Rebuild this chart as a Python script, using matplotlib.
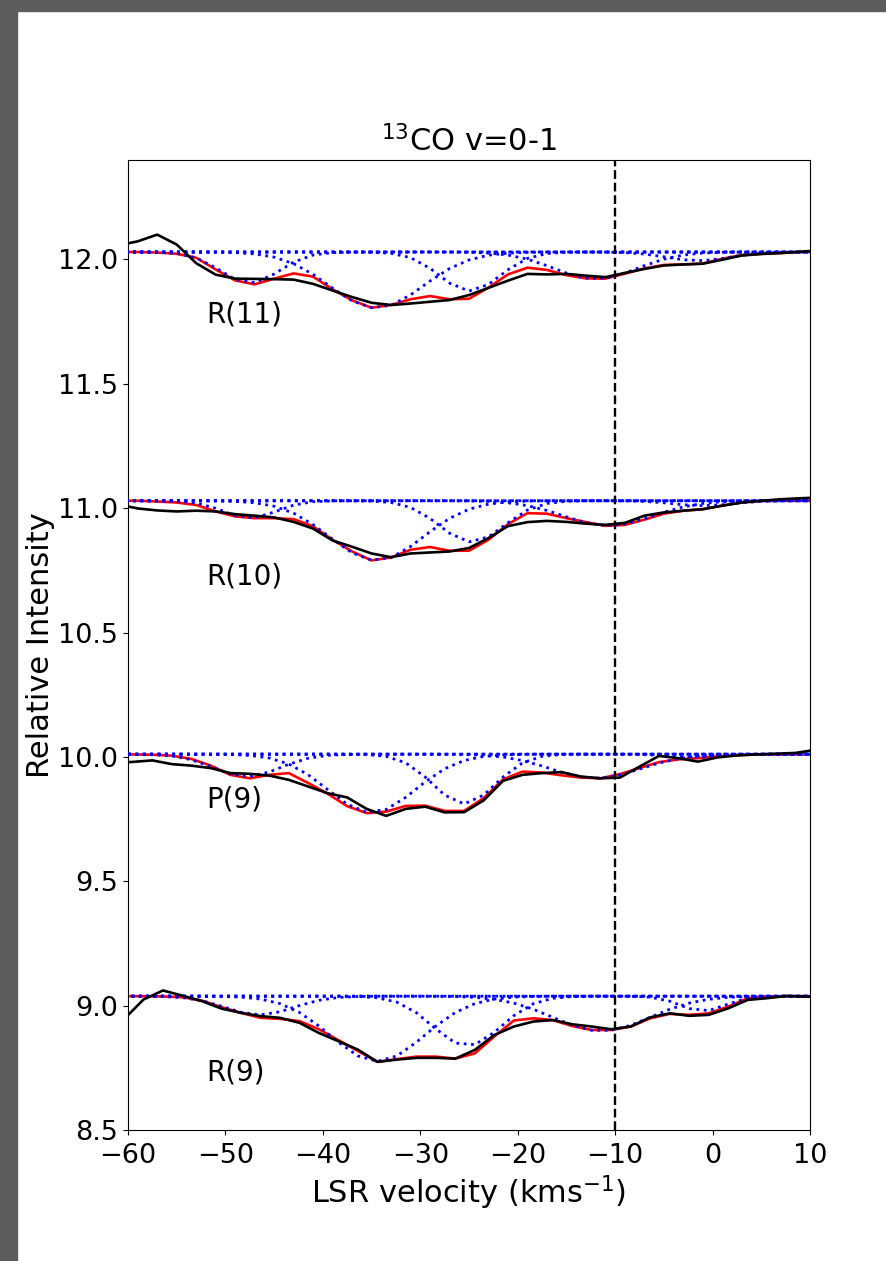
import numpy as np
import matplotlib
matplotlib.use('Agg')
import matplotlib.pyplot as plt
from matplotlib.patches import Rectangle

# ---------------- data ----------------
vel_R11 = [-61, -59, -57, -55, -53, -51, -49, -47, -45, -43, -41, -39, -37, -35, -33, -31, -29, -27, -25,
           -23, -21, -19, -17, -15, -13, -11, -9, -7, -5, -3, -1, 1, 3, 5, 7, 9, 11]
vel_R10 = vel_R11
vel_P9 = [-61.5, -59.5, -57.5, -55.5, -53.5, -51.5, -49.5, -47.5, -45.5, -43.5, -41.5, -39.5, -37.5, -35.5,
          -33.5, -31.5, -29.5, -27.5, -25.5, -23.5, -21.5, -19.5, -17.5, -15.5, -13.5, -11.5, -9.5, -7.5,
          -5.5, -3.5, -1.5, 0.5, 2.5, 4.5, 6.5, 8.5, 10.5]
vel_R9 = [-60.4, -58.4, -56.4, -54.4, -52.4, -50.4, -48.4, -46.4, -44.4, -42.4, -40.4, -38.4, -36.4, -34.4,
          -32.4, -30.4, -28.4, -26.4, -24.4, -22.4, -20.4, -18.4, -16.4, -14.4, -12.4, -10.4, -8.4, -6.4,
          -4.4, -2.4, -0.4, 1.6, 3.6, 5.6, 7.6, 9.6, 11.6]

obs_R11 = [12.057, 12.073, 12.100, 12.060, 11.985, 11.939, 11.923, 11.922, 11.921, 11.919, 11.902, 11.875,
           11.849, 11.826, 11.817, 11.823, 11.830, 11.837, 11.857, 11.886, 11.915, 11.942, 11.940, 11.942,
           11.935, 11.929, 11.946, 11.962, 11.976, 11.980, 11.983, 11.999, 12.016, 12.022, 12.026, 12.031,
           12.037]
fit_R11 = [12.030, 12.030, 12.028, 12.023, 12.007, 11.960, 11.916, 11.900, 11.923, 11.944, 11.931, 11.880,
           11.836, 11.806, 11.817, 11.840, 11.853, 11.840, 11.842, 11.887, 11.940, 11.967, 11.958, 11.937,
           11.924, 11.923, 11.943, 11.964, 11.978, 11.980, 11.984, 12.003, 12.018, 12.023, 12.026, 12.030,
           12.033]

obs_R10 = [11.015, 10.999, 10.991, 10.987, 10.990, 10.987, 10.976, 10.970, 10.963, 10.945, 10.918, 10.870,
           10.845, 10.818, 10.803, 10.818, 10.822, 10.826, 10.840, 10.880, 10.928, 10.944, 10.949, 10.945,
           10.938, 10.933, 10.941, 10.970, 10.983, 10.990, 10.996, 11.010, 11.023, 11.030, 11.036, 11.040,
           11.043]
fit_R10 = [11.030, 11.030, 11.027, 11.023, 11.013, 10.987, 10.967, 10.960, 10.960, 10.956, 10.927, 10.873,
           10.826, 10.790, 10.802, 10.833, 10.844, 10.829, 10.829, 10.873, 10.936, 10.980, 10.978, 10.960,
           10.944, 10.929, 10.933, 10.954, 10.978, 10.990, 10.996, 11.011, 11.023, 11.029, 11.030, 11.030,
           11.030]

obs_P9 = [9.975, 9.980, 9.986, 9.971, 9.965, 9.955, 9.935, 9.932, 9.925, 9.908, 9.881, 9.854, 9.837, 9.791,
          9.763, 9.791, 9.800, 9.777, 9.778, 9.825, 9.904, 9.928, 9.935, 9.939, 9.921, 9.914, 9.917, 9.961,
          10.004, 9.995, 9.981, 9.998, 10.006, 10.010, 10.013, 10.016, 10.028]
fit_P9 = [10.011, 10.010, 10.009, 10.005, 9.992, 9.965, 9.928, 9.914, 9.928, 9.935, 9.895, 9.852, 9.802,
          9.774, 9.780, 9.803, 9.804, 9.783, 9.783, 9.834, 9.910, 9.941, 9.937, 9.926, 9.917, 9.914, 9.931,
          9.955, 9.979, 9.990, 9.995, 10.002, 10.007, 10.010, 10.010, 10.010, 10.010]

obs_R9 = [8.946, 9.025, 9.061, 9.040, 9.018, 8.988, 8.971, 8.958, 8.951, 8.931, 8.890, 8.857, 8.823, 8.774,
          8.783, 8.790, 8.790, 8.787, 8.822, 8.882, 8.916, 8.936, 8.942, 8.925, 8.916, 8.905, 8.916, 8.953,
          8.969, 8.959, 8.963, 8.989, 9.023, 9.030, 9.039, 9.036, 9.036]
fit_R9 = [9.038, 9.038, 9.037, 9.034, 9.020, 8.994, 8.971, 8.951, 8.947, 8.938, 8.905, 8.861, 8.818, 8.774,
          8.785, 8.795, 8.795, 8.787, 8.808, 8.876, 8.940, 8.949, 8.942, 8.918, 8.902, 8.902, 8.916, 8.949,
          8.967, 8.963, 8.969, 8.996, 9.030, 9.037, 9.038, 9.038, 9.038]

# Gaussian components of the fit: continuum level, centres, depths, widths
cont_levels = [12.030, 11.030, 10.011, 9.038]
comp_centres = [[-47.5, -34.5, -24.9, -12.0, -1.5],
                [-47.5, -34.5, -24.7, -10.7, -1.0],
                [-47.8, -35.0, -25.5, -12.0, -2.0],
                [-46.5, -34.4, -25.2, -11.4, -1.0]]
comp_depths = [[0.125, 0.225, 0.157, 0.108, 0.035],
               [0.070, 0.240, 0.166, 0.100, 0.020],
               [0.090, 0.235, 0.200, 0.097, 0.012],
               [0.075, 0.262, 0.200, 0.140, 0.060]]
comp_widths = [[3.0, 4.8, 3.1, 4.3, 3.2],
               [2.7, 4.8, 3.3, 4.6, 3.0],
               [3.4, 4.5, 3.2, 4.6, 2.5],
               [3.5, 4.8, 3.5, 5.0, 2.3]]

line_labels = ['R(11)', 'R(10)', 'P(9)', 'R(9)']
label_pos_v = [-52, -52, -52, -52]
label_pos_y = [11.78, 10.725, 9.83, 8.733]

vels = [vel_R11, vel_R10, vel_P9, vel_R9]
obs = [obs_R11, obs_R10, obs_P9, obs_R9]
fits = [fit_R11, fit_R10, fit_P9, fit_R9]

# ---------------- figure ----------------
fig = plt.figure(figsize=(8.86, 12.61), dpi=100)
fig.patch.set_facecolor('white')
fig.add_artist(Rectangle((0, 0), 17 / 886, 1, transform=fig.transFigure, color='#5c5c5c', zorder=0))
fig.add_artist(Rectangle((0, 1 - 11 / 1261), 1, 11 / 1261, transform=fig.transFigure,
                         color='#5c5c5c', zorder=0))

ax = fig.add_axes([128 / 886, 1 - 1130 / 1261, (810 - 128) / 886, (1130 - 160) / 1261])

for i in range(4):
    v = np.array(vels[i])
    ax.plot(v, fits[i], color='red', lw=1.9, zorder=2)
    for c, d, w in zip(comp_centres[i], comp_depths[i], comp_widths[i]):
        comp = cont_levels[i] - d * np.exp(-(v - c) ** 2 / (2 * w ** 2))
        ax.plot(v, comp, color='blue', ls=':', lw=2.0, zorder=3)
    ax.plot(v, obs[i], color='black', lw=1.9, zorder=4)
    ax.text(label_pos_v[i], label_pos_y[i], line_labels[i], fontsize=20, va='center', ha='left')

ax.axvline(-10, color='black', ls='--', lw=1.7, zorder=5)

ax.set_xlim(-60, 10)
ax.set_ylim(8.5, 12.4)
ax.set_yticks([8.5, 9.0, 9.5, 10.0, 10.5, 11.0, 11.5, 12.0])
ax.set_xticks([-60, -50, -40, -30, -20, -10, 0, 10])
ax.tick_params(axis='y', labelsize=19.5)
ax.tick_params(axis='x', labelsize=19.5, pad=6)
ax.set_title(r'$^{13}$CO v=0-1', fontsize=22)
ax.set_xlabel(r'LSR velocity (kms$^{-1}$)', fontsize=22, labelpad=3)
ax.set_ylabel('Relative Intensity', fontsize=22, labelpad=2)

fig.savefig('out.png', dpi=100)
